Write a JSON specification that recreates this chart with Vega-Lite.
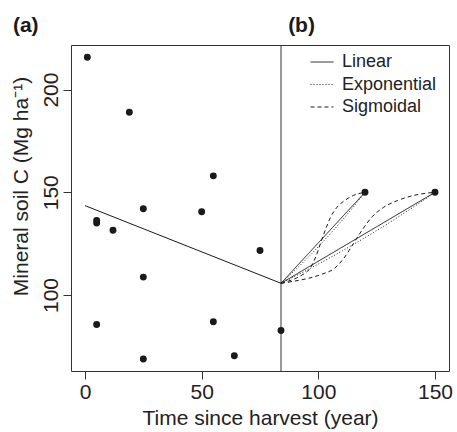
{
  "$schema": "https://vega.github.io/schema/vega-lite/v6.json",
  "width": 378,
  "height": 326,
  "autosize": {"type": "none"},
  "padding": {"left": 71, "top": 45, "right": 8, "bottom": 61},
  "background": "white",
  "config": {
    "font": "Liberation Sans",
    "view": {"stroke": "#333", "strokeWidth": 1},
    "axis": {"grid": false, "domain": false, "tickColor": "#333", "tickSize": 8, "labelColor": "#222", "titleColor": "#222", "labelFontSize": 21, "titleFontSize": 21, "titleFontWeight": "normal", "labelFont": "Liberation Sans", "titleFont": "Liberation Sans"}
  },
  "datasets": {
    "pts": [
      {"t": 1, "c": 215.7}, {"t": 19, "c": 189}, {"t": 55, "c": 158}, {"t": 25, "c": 142},
      {"t": 50, "c": 140.5}, {"t": 5, "c": 136.3}, {"t": 5, "c": 135}, {"t": 12, "c": 131.5},
      {"t": 75, "c": 121.7}, {"t": 25, "c": 108.7}, {"t": 5, "c": 85.6}, {"t": 55, "c": 87},
      {"t": 84, "c": 82.7}, {"t": 25, "c": 68.8}, {"t": 64, "c": 70.4},
      {"t": 120, "c": 150}, {"t": 150, "c": 150}
    ],
    "reg": [{"t": 0, "c": 143.5}, {"t": 84, "c": 105.7}],
    "curves": [
      {"model": "Linear", "g": "L120", "t": 84, "c": 105.7},
      {"model": "Linear", "g": "L120", "t": 120, "c": 150},
      {"model": "Linear", "g": "L150", "t": 84, "c": 105.7},
      {"model": "Linear", "g": "L150", "t": 150, "c": 150},
      {"model": "Exponential", "g": "E120", "t": 84, "c": 105.7},
      {"model": "Exponential", "g": "E120", "t": 87.6, "c": 109.46},
      {"model": "Exponential", "g": "E120", "t": 91.2, "c": 113.36},
      {"model": "Exponential", "g": "E120", "t": 94.8, "c": 117.4},
      {"model": "Exponential", "g": "E120", "t": 98.4, "c": 121.58},
      {"model": "Exponential", "g": "E120", "t": 102, "c": 125.92},
      {"model": "Exponential", "g": "E120", "t": 105.6, "c": 130.4},
      {"model": "Exponential", "g": "E120", "t": 109.2, "c": 135.04},
      {"model": "Exponential", "g": "E120", "t": 112.8, "c": 139.85},
      {"model": "Exponential", "g": "E120", "t": 116.4, "c": 144.83},
      {"model": "Exponential", "g": "E120", "t": 120, "c": 150},
      {"model": "Exponential", "g": "E150", "t": 84, "c": 105.7},
      {"model": "Exponential", "g": "E150", "t": 90.6, "c": 109.46},
      {"model": "Exponential", "g": "E150", "t": 97.2, "c": 113.36},
      {"model": "Exponential", "g": "E150", "t": 103.8, "c": 117.4},
      {"model": "Exponential", "g": "E150", "t": 110.4, "c": 121.58},
      {"model": "Exponential", "g": "E150", "t": 117, "c": 125.92},
      {"model": "Exponential", "g": "E150", "t": 123.6, "c": 130.4},
      {"model": "Exponential", "g": "E150", "t": 130.2, "c": 135.04},
      {"model": "Exponential", "g": "E150", "t": 136.8, "c": 139.85},
      {"model": "Exponential", "g": "E150", "t": 143.4, "c": 144.83},
      {"model": "Exponential", "g": "E150", "t": 150, "c": 150},
      {"model": "Sigmoidal", "g": "S120", "t": 84, "c": 105.7},
      {"model": "Sigmoidal", "g": "S120", "t": 87.3, "c": 106.8},
      {"model": "Sigmoidal", "g": "S120", "t": 90.5, "c": 108.2},
      {"model": "Sigmoidal", "g": "S120", "t": 93.8, "c": 110.3},
      {"model": "Sigmoidal", "g": "S120", "t": 96.5, "c": 113},
      {"model": "Sigmoidal", "g": "S120", "t": 98.7, "c": 118},
      {"model": "Sigmoidal", "g": "S120", "t": 100.9, "c": 125},
      {"model": "Sigmoidal", "g": "S120", "t": 103.1, "c": 132},
      {"model": "Sigmoidal", "g": "S120", "t": 105.3, "c": 138},
      {"model": "Sigmoidal", "g": "S120", "t": 108, "c": 142.7},
      {"model": "Sigmoidal", "g": "S120", "t": 111.3, "c": 146},
      {"model": "Sigmoidal", "g": "S120", "t": 115.1, "c": 148.5},
      {"model": "Sigmoidal", "g": "S120", "t": 120, "c": 150},
      {"model": "Sigmoidal", "g": "S150", "t": 84, "c": 105.7},
      {"model": "Sigmoidal", "g": "S150", "t": 90, "c": 106.8},
      {"model": "Sigmoidal", "g": "S150", "t": 96, "c": 108.2},
      {"model": "Sigmoidal", "g": "S150", "t": 102, "c": 110.3},
      {"model": "Sigmoidal", "g": "S150", "t": 107, "c": 113},
      {"model": "Sigmoidal", "g": "S150", "t": 111, "c": 118},
      {"model": "Sigmoidal", "g": "S150", "t": 115, "c": 125},
      {"model": "Sigmoidal", "g": "S150", "t": 119, "c": 132},
      {"model": "Sigmoidal", "g": "S150", "t": 123, "c": 138},
      {"model": "Sigmoidal", "g": "S150", "t": 128, "c": 142.7},
      {"model": "Sigmoidal", "g": "S150", "t": 134, "c": 146},
      {"model": "Sigmoidal", "g": "S150", "t": 141, "c": 148.5},
      {"model": "Sigmoidal", "g": "S150", "t": 150, "c": 150}
    ],
    "panels": [
      {"label": "(a)", "t": -25.4, "c": 230.8},
      {"label": "(b)", "t": 92.8, "c": 230.8}
    ],
    "vline": [{"t": 84}]
  },
  "encoding": {
    "x": {"field": "t", "type": "quantitative", "scale": {"domain": [-6, 156], "nice": false, "zero": false},
      "axis": {"values": [0, 50, 100, 150], "title": "Time since harvest (year)", "labelPadding": 2, "titleY": 53, "titleBaseline": "alphabetic"}},
    "y": {"field": "c", "type": "quantitative", "scale": {"domain": [63, 221.7], "nice": false, "zero": false},
      "axis": {"values": [100, 150, 200], "title": "Mineral soil C (Mg ha⁻¹)", "labelAngle": 270, "labelAlign": "center", "labelBaseline": "alphabetic", "labelPadding": 6, "titleAngle": 270, "titleX": -44, "titleY": 141, "titleBaseline": "alphabetic", "titleAlign": "center"}}
  },
  "layer": [
    {"data": {"name": "vline"}, "mark": {"type": "rule", "color": "#333", "strokeWidth": 1}, "encoding": {"x": {"field": "t", "type": "quantitative"}, "y": null}},
    {"data": {"name": "reg"}, "mark": {"type": "line", "color": "#1a1a1a", "strokeWidth": 1}, "encoding": {}},
    {"data": {"name": "curves"}, "mark": {"type": "line", "color": "#1a1a1a", "strokeWidth": 1, "interpolate": "monotone"},
      "encoding": {
        "detail": {"field": "g"},
        "strokeDash": {"field": "model", "type": "nominal",
          "scale": {"domain": ["Linear", "Exponential", "Sigmoidal"], "range": [[1, 0], [1, 2], [4, 3]]},
          "legend": {"title": null, "orient": "none", "legendX": 239, "legendY": 5, "labelFontSize": 18, "labelFont": "Liberation Sans", "labelColor": "#222", "symbolType": "stroke", "symbolSize": 529, "symbolStrokeWidth": 1, "symbolStrokeColor": "#1a1a1a", "labelOffset": 8, "rowPadding": 1.5, "padding": 0}}
      }},
    {"data": {"name": "pts"}, "mark": {"type": "point", "filled": true, "shape": "circle", "color": "#1a1a1a", "size": 48, "opacity": 1}, "encoding": {}},
    {"data": {"name": "panels"}, "mark": {"type": "text", "fontSize": 21, "fontWeight": "bold", "font": "Liberation Sans", "color": "#1a1a1a", "baseline": "middle", "align": "center"},
      "encoding": {"text": {"field": "label"}}}
  ]
}
